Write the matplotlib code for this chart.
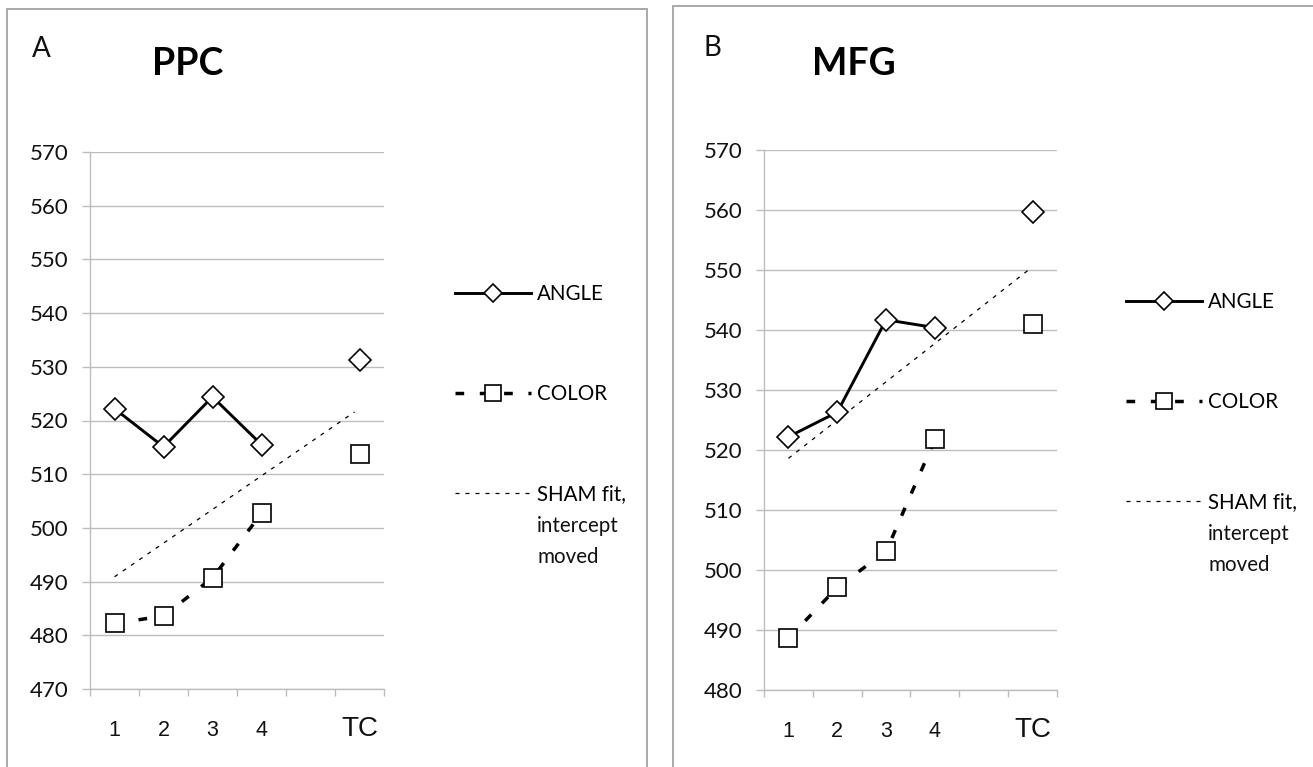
import numpy as np
import matplotlib
matplotlib.use('Agg')
import matplotlib.pyplot as plt
from matplotlib.patches import Rectangle

W, H = 1313, 767

# x categories (the blank one is an empty spacer column before TC)
sessions = ['1', '2', '3', '4', '', 'TC']

# panel A - PPC
ppc_angle = [522.2, 515.1, 524.4, 515.5, np.nan, 531.3]
ppc_color = [482.2, 483.6, 490.7, 502.7, np.nan, 513.7]
ppc_sham = [490.9, 521.6]      # SHAM fit line, start (session 1) and end (TC)
ppc_yticks = [470, 480, 490, 500, 510, 520, 530, 540, 550, 560, 570]

# panel B - MFG
mfg_angle = [522.2, 526.3, 541.7, 540.4, np.nan, 559.6]
mfg_color = [488.6, 497.1, 503.1, 521.8, np.nan, 541.0]
mfg_sham = [518.6, 549.9]
mfg_yticks = [480, 490, 500, 510, 520, 530, 540, 550, 560, 570]

GRID = '#bdbdbd'
FRAME = '#a9a9a9'
UI = 'Lato'


def fxy(x, y):
    # pixel position (from top-left) -> figure fraction
    return x / W, 1 - y / H


def panel(fig, box, angle, color, sham, yticks, letter, title,
          letter_xy, title_xy, leg_xy):
    l, t, r, b = box
    ax = fig.add_axes([l / W, 1 - b / H, (r - l) / W, (b - t) / H])
    x = np.arange(len(sessions))

    l_sham, = ax.plot([x[0], x[-1] - 0.1], sham, color='black', lw=0.9,
                      dashes=(3.2, 4.8), zorder=2, label='SHAM fit,')
    l_col, = ax.plot(x, color, color='black', lw=2.5, dashes=(2.5, 4.5),
                     marker='s', ms=13, mfc='white', mec='black', mew=1.2,
                     zorder=3, label='COLOR')
    l_ang, = ax.plot(x, angle, color='black', lw=2.1, marker='D', ms=11,
                     mfc='white', mec='black', mew=1.2, zorder=4, label='ANGLE')

    ax.set_xlim(-0.5, len(sessions) - 0.5)
    ax.set_ylim(yticks[0], yticks[-1])
    ax.set_yticks(yticks)
    ax.yaxis.grid(True, color=GRID, lw=1.0)
    ax.set_axisbelow(True)
    for s in ['top', 'right']:
        ax.spines[s].set_visible(False)
    for s in ['left', 'bottom']:
        ax.spines[s].set_color(GRID)
        ax.spines[s].set_linewidth(1.0)

    ax.tick_params(axis='y', length=5.8, width=1.0, color=GRID, pad=10,
                   labelsize=16, labelcolor='#111111')
    for lbl in ax.get_yticklabels():
        lbl.set_family(UI)

    ax.set_xticks(x, sessions)
    ax.set_xticks(np.arange(-0.5, len(sessions)), minor=True)
    ax.tick_params(axis='x', which='major', length=0, pad=33.5,
                   labelcolor='#111111')
    ax.tick_params(axis='x', which='minor', length=5, width=1.0, color=GRID)
    for lbl, s in zip(ax.get_xticklabels(), sessions):
        lbl.set_family('Liberation Sans')
        lbl.set_fontsize(20 if s == 'TC' else 15.5)
        lbl.set_va('baseline')

    leg = ax.legend(handles=[l_ang, l_col, l_sham],
                    loc='upper left', bbox_to_anchor=fxy(*leg_xy),
                    bbox_transform=fig.transFigure, frameon=False,
                    borderpad=0, borderaxespad=0, handlelength=3.7,
                    handletextpad=0.3, labelspacing=3.9, markerscale=0.85,
                    prop={'family': UI, 'size': 14.8})
    # rest of the third label, hung under "SHAM fit,"
    ax.annotate('intercept\nmoved', xy=(0, 0), xycoords=leg.get_texts()[2],
                xytext=(0, -8.3), textcoords='offset points', ha='left',
                va='top', family=UI, fontsize=14.8, linespacing=1.67,
                color='#111111', zorder=10, annotation_clip=False)

    fig.text(*fxy(*letter_xy), letter, family=UI, fontsize=20,
             va='baseline', color='#111111')
    fig.text(*fxy(*title_xy), title, family=UI, fontsize=27,
             fontweight='bold', va='baseline')
    return ax


fig = plt.figure(figsize=(W / 100, H / 100), dpi=100)

# panel frames, open at the bottom / right as in the cropped original
fig.patches.append(Rectangle(fxy(7, 790), (647 - 7) / W, (790 - 9) / H,
                             transform=fig.transFigure, fill=False,
                             ec=FRAME, lw=1.4))
fig.patches.append(Rectangle(fxy(673, 790), (1340 - 673) / W, (790 - 6) / H,
                             transform=fig.transFigure, fill=False,
                             ec=FRAME, lw=1.4))

panel(fig, (90, 152, 384, 689), ppc_angle, ppc_color, ppc_sham, ppc_yticks,
      'A', 'PPC', (32, 57), (152, 75), (455, 284))
panel(fig, (764, 150, 1057, 690), mfg_angle, mfg_color, mfg_sham, mfg_yticks,
      'B', 'MFG', (703, 56), (812, 75), (1126, 292))

fig.savefig('out.png', dpi=100)
